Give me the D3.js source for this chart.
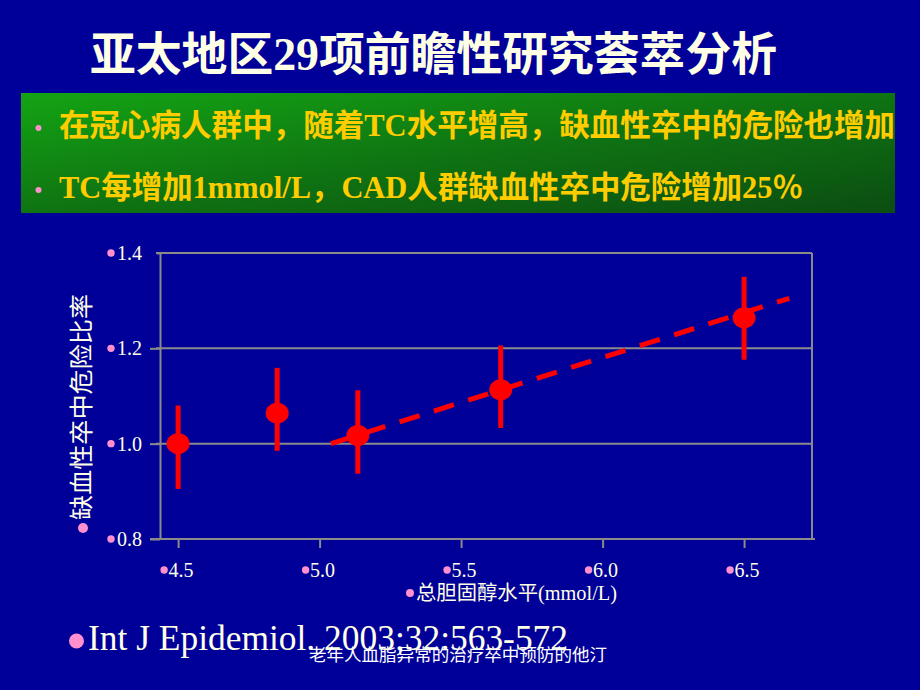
<!DOCTYPE html>
<html>
<head>
<meta charset="utf-8">
<script src="https://cdn.jsdelivr.net/npm/d3@7"></script>
<style>
  html, body { margin: 0; padding: 0; background: #000099; }
  svg { display: block; }
</style>
</head>
<body>
<svg id="chart" width="920" height="690"></svg>
<script>
// ---- data ----
const tcLevels   = [4.5, 4.85, 5.135, 5.64, 6.5];
const riskRatio  = [1.0, 1.064, 1.017, 1.113, 1.264];
const ciLower    = [0.905, 0.985, 0.937, 1.033, 1.176];
const ciUpper    = [1.08, 1.159, 1.112, 1.206, 1.35];
const trendX     = [5.04, 6.66];
const trendY     = [1.0, 1.305];
const xTickVals  = [4.5, 5.0, 5.5, 6.0, 6.5];
const yTickVals  = [0.8, 1.0, 1.2, 1.4];
const titleText  = "亚太地区29项前瞻性研究荟萃分析";
const bullets    = ["在冠心病人群中，随着TC水平增高，缺血性卒中的危险也增加",
                    "TC每增加1mmol/L，CAD人群缺血性卒中危险增加25％"];
const yLabel     = "缺血性卒中危险比率";
const xLabel     = "总胆固醇水平(mmol/L)";
const citation   = "Int J Epidemiol. 2003;32:563-572";
const footer     = "老年人血脂异常的治疗卒中预防的他汀";

(function () {
const serif = "'Liberation Serif','Times New Roman','Noto Sans CJK SC',serif";
const cream = "#ffffe6";
const pink = "#ff8fcf";

const svg = d3.select("#chart");
svg.append("rect").attr("width", 920).attr("height", 690).attr("fill", "#000099");

// title
svg.append("text").attr("x", 90).attr("y", 70)
  .attr("font-family", serif).attr("font-weight", "bold").attr("font-size", 46)
  .attr("fill", cream).attr("textLength", 687).attr("lengthAdjust", "spacingAndGlyphs")
  .text(titleText);

// green box
const defs = svg.append("defs");
const grad = defs.append("linearGradient").attr("id", "g").attr("x1", "0").attr("y1", "0").attr("x2", "1").attr("y2", "1");
grad.append("stop").attr("offset", "0%").attr("stop-color", "#14a414");
grad.append("stop").attr("offset", "50%").attr("stop-color", "#0f7412");
grad.append("stop").attr("offset", "100%").attr("stop-color", "#0b4d12");
svg.append("rect").attr("x", 21).attr("y", 93).attr("width", 874).attr("height", 120).attr("fill", "url(#g)");

const bulletY = [136, 198];
const bulletLen = [836, 744];
bullets.forEach((t, i) => {
  svg.append("circle").attr("cx", 38.5).attr("cy", bulletY[i] - 8).attr("r", 3).attr("fill", pink);
  svg.append("text").attr("x", 59).attr("y", bulletY[i])
    .attr("font-family", serif).attr("font-weight", "bold").attr("font-size", 31)
    .attr("fill", "#ffcc00").attr("textLength", bulletLen[i]).attr("lengthAdjust", "spacingAndGlyphs")
    .text(t);
});

// chart
const pLeft = 160, pRight = 812, pTop = 253, pBottom = 539;
const x = d3.scaleLinear().domain([4.436, 6.740]).range([pLeft, pRight]);
const y = d3.scaleLinear().domain([0.8, 1.4]).range([pBottom, pTop]);
const grid = "#8a8a8a";

const g = svg.append("g");
g.selectAll("line.grid").data(yTickVals.filter(v => v > 0.8)).enter().append("line")
  .attr("x1", pLeft - 4).attr("x2", pRight).attr("y1", d => y(d)).attr("y2", d => y(d))
  .attr("stroke", grid).attr("stroke-width", 2);
g.append("line").attr("x1", pRight).attr("x2", pRight).attr("y1", pTop).attr("y2", pBottom)
  .attr("stroke", grid).attr("stroke-width", 2);

const xAxis = d3.axisBottom(x).tickValues(xTickVals).tickSize(9).tickSizeOuter(0).tickFormat("");
const xg = g.append("g").attr("transform", `translate(0,${pBottom})`).call(xAxis);
xg.select(".domain").attr("d", `M${pLeft - 10},0H${pRight + 3}`);
const yAxis = d3.axisLeft(y).tickValues(yTickVals).tickSize(10).tickSizeOuter(0).tickFormat("");
const yg = g.append("g").attr("transform", `translate(${pLeft},0)`).call(yAxis);
[xg, yg].forEach(a => {
  a.selectAll("line").attr("stroke", grid).attr("stroke-width", 2);
  a.select(".domain").attr("stroke", grid).attr("stroke-width", 2);
});
yg.selectAll(".tick line").attr("x2", d => d === 1.4 ? -3 : -10);

// tick labels with bullets
yTickVals.forEach(v => {
  svg.append("circle").attr("cx", 111).attr("cy", y(v)).attr("r", 3.7).attr("fill", pink);
  svg.append("text").attr("x", 117).attr("y", y(v) + 7).attr("font-family", serif)
    .attr("font-size", 20).attr("fill", cream).text(d3.format(".1f")(v));
});
xTickVals.forEach(v => {
  svg.append("circle").attr("cx", x(v) - 14).attr("cy", 570).attr("r", 3.7).attr("fill", pink);
  svg.append("text").attr("x", x(v) - 9.5).attr("y", 577).attr("font-family", serif)
    .attr("font-size", 20).attr("fill", cream).text(d3.format(".1f")(v));
});

// axis titles
svg.append("circle").attr("cx", 410).attr("cy", 593).attr("r", 4).attr("fill", pink);
svg.append("text").attr("x", 416).attr("y", 600).attr("font-family", serif)
  .attr("font-size", 20).attr("fill", cream).attr("textLength", 201).attr("lengthAdjust", "spacingAndGlyphs")
  .text(xLabel);
svg.append("circle").attr("cx", 83).attr("cy", 528).attr("r", 5).attr("fill", pink);
svg.append("text").attr("transform", "translate(82,407) rotate(-90)")
  .attr("text-anchor", "middle").attr("dominant-baseline", "central")
  .attr("font-family", serif).attr("font-size", 24).attr("fill", cream)
  .attr("textLength", 226).attr("lengthAdjust", "spacingAndGlyphs")
  .text(yLabel);

// trend line
const red = "#ff0000";
svg.append("line")
  .attr("x1", x(trendX[0])).attr("y1", y(trendY[0]))
  .attr("x2", x(trendX[1])).attr("y2", y(trendY[1]))
  .attr("stroke", red).attr("stroke-width", 5).attr("stroke-dasharray", "21,15");

// error bars + points
const pts = tcLevels.map((t, i) => ({ t, r: riskRatio[i], lo: ciLower[i], hi: ciUpper[i] }));
svg.selectAll("line.err").data(pts).enter().append("line")
  .attr("x1", d => x(d.t)).attr("x2", d => x(d.t))
  .attr("y1", d => y(d.lo)).attr("y2", d => y(d.hi))
  .attr("stroke", red).attr("stroke-width", 5);
svg.selectAll("ellipse.pt").data(pts).enter().append("ellipse")
  .attr("cx", d => x(d.t)).attr("cy", d => y(d.r)).attr("rx", 11.5).attr("ry", 10.5)
  .attr("fill", red);

// citation + footer
svg.append("ellipse").attr("cx", 76.5).attr("cy", 641).attr("rx", 7.5).attr("ry", 7.5).attr("fill", pink);
svg.append("text").attr("x", 88).attr("y", 650).attr("font-family", serif)
  .attr("font-size", 36).attr("fill", cream).attr("textLength", 480).attr("lengthAdjust", "spacingAndGlyphs")
  .text(citation);
svg.append("text").attr("x", 309).attr("y", 661).attr("font-family", "'Noto Sans CJK SC',sans-serif")
  .attr("font-size", 17).attr("fill", "#ffffff").attr("textLength", 298).attr("lengthAdjust", "spacingAndGlyphs")
  .text(footer);
})();
</script>
</body>
</html>
